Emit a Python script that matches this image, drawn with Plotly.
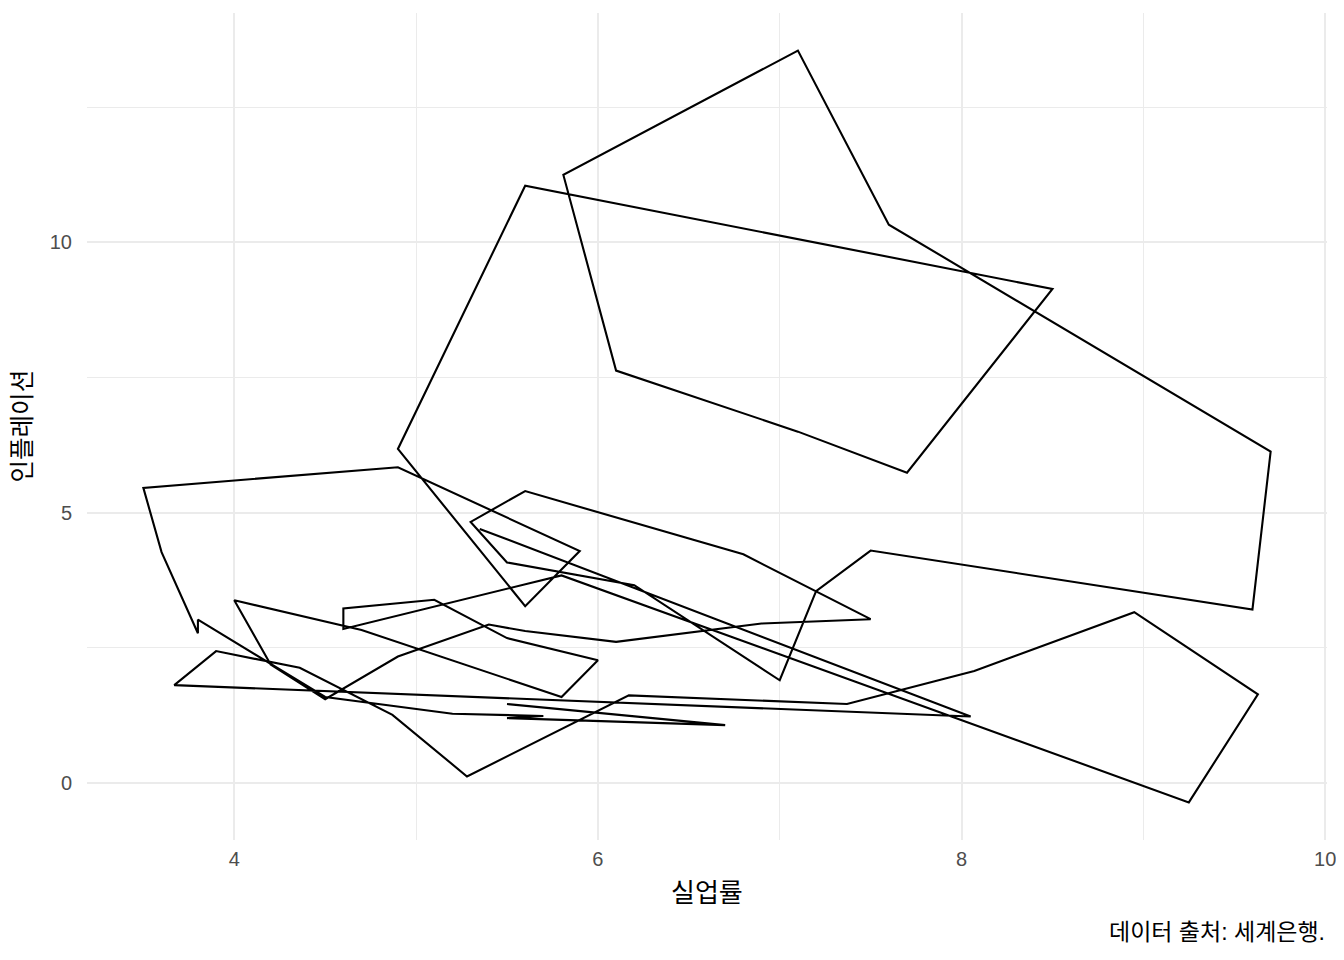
import plotly.graph_objects as go

years = list(range(1960, 2022))
unemployment = [5.5, 6.7, 5.5, 5.7, 5.2, 4.5, 3.8, 3.8, 3.6, 3.5,
                4.9, 5.9, 5.6, 4.9, 5.6, 8.5, 7.7, 7.1, 6.1, 5.81,
                7.1, 7.6, 9.7, 9.6, 7.5, 7.2, 7.0, 6.2, 5.5, 5.3,
                5.6, 6.8, 7.5, 6.9, 6.1, 5.6, 5.4, 4.9, 4.5, 4.2,
                4.0, 4.7, 5.8, 6.0, 5.5, 5.1, 4.6, 4.6, 5.8, 9.25,
                9.63, 8.95, 8.07, 7.37, 6.17, 5.28, 4.87, 4.36, 3.9, 3.67,
                8.05, 5.35]
inflation = [1.46, 1.07, 1.20, 1.24, 1.28, 1.59, 3.02, 2.77, 4.27, 5.46,
             5.84, 4.29, 3.27, 6.18, 11.05, 9.14, 5.74, 6.50, 7.63, 11.25,
             13.55, 10.33, 6.13, 3.21, 4.30, 3.55, 1.90, 3.66, 4.08, 4.83,
             5.40, 4.23, 3.03, 2.95, 2.61, 2.81, 2.93, 2.34, 1.55, 2.19,
             3.38, 2.83, 1.59, 2.27, 2.68, 3.39, 3.23, 2.85, 3.84, -0.36,
             1.64, 3.16, 2.07, 1.46, 1.62, 0.12, 1.26, 2.13, 2.44, 1.81,
             1.23, 4.70]

x_ticks = [4, 6, 8, 10]
y_ticks = [0, 5, 10]

xmin, xmax = min(unemployment), max(unemployment)
ymin, ymax = min(inflation), max(inflation)
xpad = (xmax - xmin) * 0.05
ypad = (ymax - ymin) * 0.05

font_fam = "Liberation Sans, Noto Sans CJK KR, sans-serif"

fig = go.Figure()
fig.add_trace(go.Scatter(
    x=unemployment, y=inflation, mode="lines",
    line=dict(color="black", width=2.1),
    text=[str(y) for y in years], hoverinfo="text+x+y",
    showlegend=False,
))

grid = "#EBEBEB"
fig.update_layout(
    width=1336, height=952,
    paper_bgcolor="white", plot_bgcolor="white",
    margin=dict(l=79, r=17, t=5, b=120),
    font=dict(family=font_fam, color="#4D4D4D", size=20),
    xaxis=dict(
        range=[xmin - xpad, xmax + xpad],
        tickvals=x_ticks, ticktext=[str(v) for v in x_ticks],
        showgrid=True, gridcolor=grid, gridwidth=2,
        minor=dict(dtick=1, tick0=0, showgrid=True, gridcolor=grid, gridwidth=1),
        zeroline=False, showline=False, ticks="",
        ticklabelstandoff=5,
        tickfont=dict(size=20, color="#4D4D4D"),
    ),
    yaxis=dict(
        range=[ymin - ypad, ymax + ypad],
        tickvals=y_ticks, ticktext=[str(v) for v in y_ticks],
        showgrid=True, gridcolor=grid, gridwidth=2,
        minor=dict(dtick=2.5, tick0=0, showgrid=True, gridcolor=grid, gridwidth=1),
        zeroline=False, showline=False, ticks="",
        ticklabelstandoff=14,
        tickfont=dict(size=20, color="#4D4D4D"),
    ),
    annotations=[
        dict(text="실업률", xref="paper", yref="paper", x=0.5, y=-0.064,
             xanchor="center", yanchor="middle", showarrow=False,
             font=dict(size=26, color="black", family=font_fam)),
        dict(text="인플레이션", xref="paper", yref="paper", x=-0.0524, y=0.5,
             xanchor="center", yanchor="middle", showarrow=False, textangle=-90,
             font=dict(size=24.5, color="black", family=font_fam)),
        dict(text="데이터 출처: 세계은행.", xref="paper", yref="paper", x=1.0, y=-0.111,
             xanchor="right", yanchor="middle", showarrow=False,
             font=dict(size=23, color="black", family=font_fam)),
    ],
)

fig.write_html("out.html")
